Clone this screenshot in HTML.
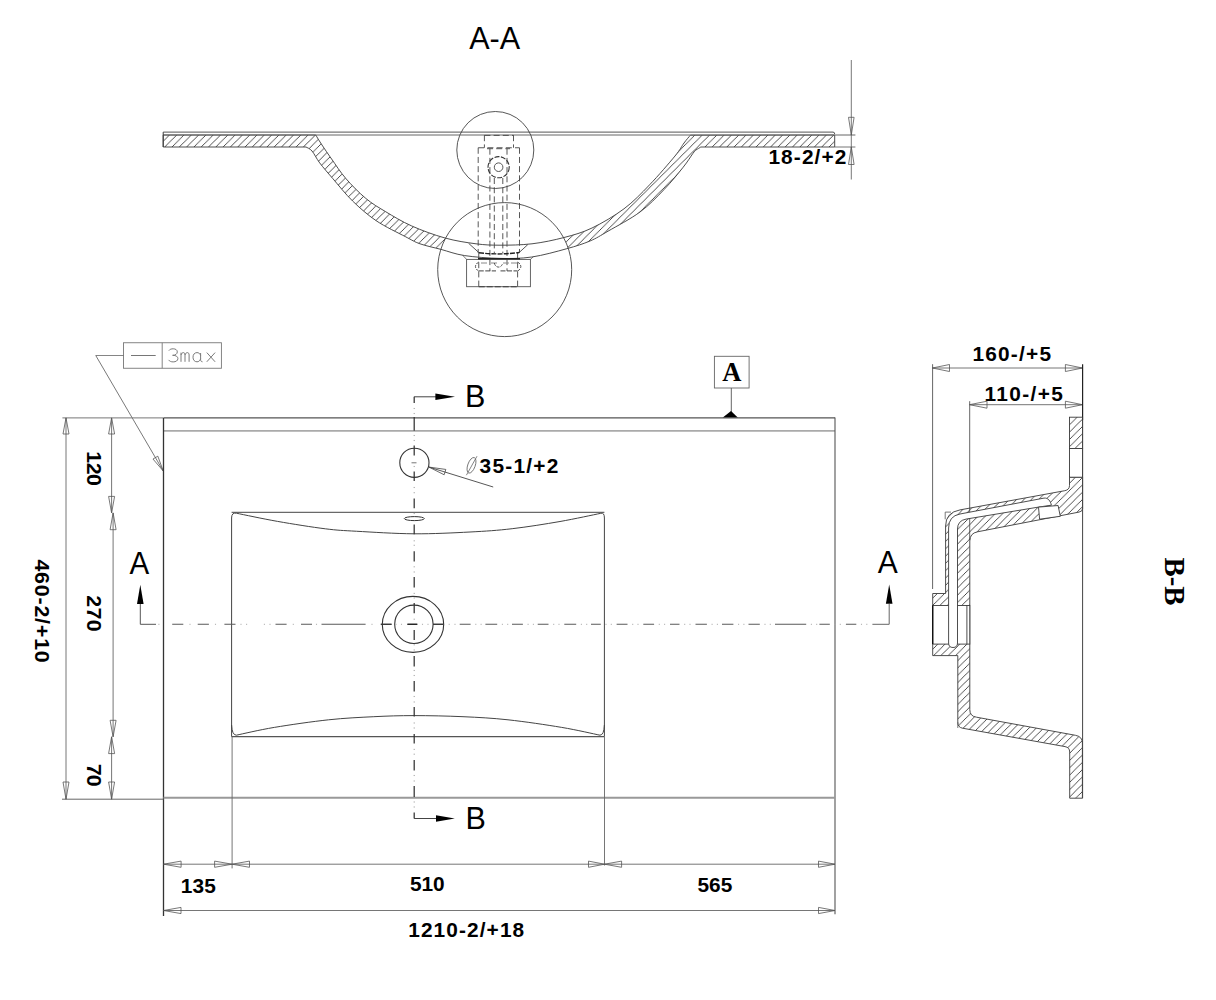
<!DOCTYPE html>
<html><head><meta charset="utf-8"><title>drawing</title>
<style>html,body{margin:0;padding:0;background:#fff;overflow:hidden}svg{display:block}</style>
</head><body>
<svg width="1216" height="1000" viewBox="0 0 1216 1000">
<rect width="1216" height="1000" fill="#fff"/>
<text x="469.2" y="49" font-family="Liberation Sans, sans-serif" font-size="31" font-weight="normal" fill="#000" text-anchor="start" textLength="51" lengthAdjust="spacingAndGlyphs" >A-A</text>
<defs>
<pattern id="h" patternUnits="userSpaceOnUse" x="5.1" y="0" width="7.3" height="7.3"><path d="M-1,1 l2,-2 M0,7.3 l7.3,-7.3 M6.3,8.3 l2,-2" stroke="#3a3a3a" stroke-width="0.9"/></pattern>
<mask id="mcirc"><rect x="0" y="0" width="1216" height="1000" fill="#fff"/><circle cx="504.7" cy="269.6" r="67" fill="#000"/></mask>
</defs>
<path d="M163.2,135 L315.8,135 C316.83,136.92 319.37,141.05 322,145 C324.63,148.95 327.6,153.38 331.6,159 C335.6,164.62 340.3,172.13 346,178.7 C351.7,185.27 359.22,192.92 365.8,198.4 C372.38,203.88 377.83,207 385.5,211.6 C393.17,216.2 401.88,221.6 411.8,226 C421.72,230.4 434.3,235.03 445,238 C455.7,240.97 466.83,242.6 476,243.8 C485.17,245 490.67,245.2 500,245.2 C509.33,245.2 521.33,245.08 532,243.8 C542.67,242.52 554,240.13 564,237.5 C574,234.87 582,232.78 592,228 C602,223.22 614.4,216 624,208.8 C633.6,201.6 641.1,193.6 649.6,184.8 C658.1,176 669.27,162.97 675,156 C680.73,149.03 681.43,146.47 684,143 C686.57,139.53 689.33,136.5 690.4,135.2 L834.7,135 L834.7,147 L700.8,147 C700,147.67 697.33,148.93 696,150 C694.67,151.07 694.93,150.73 692.8,153.6 C690.67,156.47 688,161.2 683.2,167.2 C678.4,173.2 671.2,182.13 664,189.6 C656.8,197.07 649.33,205.07 640,212 C630.67,218.93 616.33,226.37 608,231.2 C599.67,236.03 596.87,238.08 590,241 C583.13,243.92 576.5,246.03 566.8,248.7 C557.1,251.37 542.93,255.38 531.8,257 C520.67,258.62 511.18,258.63 500,258.4 C488.82,258.17 474.53,257.1 464.7,255.6 C454.87,254.1 448.45,251.37 441,249.4 C433.55,247.43 425.95,245.93 420,243.8 C414.05,241.67 412.58,240.43 405.3,236.6 C398.02,232.77 385.08,226.73 376.3,220.8 C367.52,214.87 359.83,208.02 352.6,201 C345.37,193.98 338.38,185.05 332.9,178.7 C327.42,172.35 323.18,167.52 319.7,162.9 C316.22,158.28 314.28,153.65 312,151 C309.72,148.35 307,147.67 306,147 L163.2,147 Z" stroke="none" stroke-width="0" fill="url(#h)" mask="url(#mcirc)"/>
<path d="M163.2,135 L315.8,135 C316.83,136.92 319.37,141.05 322,145 C324.63,148.95 327.6,153.38 331.6,159 C335.6,164.62 340.3,172.13 346,178.7 C351.7,185.27 359.22,192.92 365.8,198.4 C372.38,203.88 377.83,207 385.5,211.6 C393.17,216.2 401.88,221.6 411.8,226 C421.72,230.4 434.3,235.03 445,238 C455.7,240.97 466.83,242.6 476,243.8 C485.17,245 490.67,245.2 500,245.2 C509.33,245.2 521.33,245.08 532,243.8 C542.67,242.52 554,240.13 564,237.5 C574,234.87 582,232.78 592,228 C602,223.22 614.4,216 624,208.8 C633.6,201.6 641.1,193.6 649.6,184.8 C658.1,176 669.27,162.97 675,156 C680.73,149.03 681.43,146.47 684,143 C686.57,139.53 689.33,136.5 690.4,135.2 L834.7,135 L834.7,147 L700.8,147 C700,147.67 697.33,148.93 696,150 C694.67,151.07 694.93,150.73 692.8,153.6 C690.67,156.47 688,161.2 683.2,167.2 C678.4,173.2 671.2,182.13 664,189.6 C656.8,197.07 649.33,205.07 640,212 C630.67,218.93 616.33,226.37 608,231.2 C599.67,236.03 596.87,238.08 590,241 C583.13,243.92 576.5,246.03 566.8,248.7 C557.1,251.37 542.93,255.38 531.8,257 C520.67,258.62 511.18,258.63 500,258.4 C488.82,258.17 474.53,257.1 464.7,255.6 C454.87,254.1 448.45,251.37 441,249.4 C433.55,247.43 425.95,245.93 420,243.8 C414.05,241.67 412.58,240.43 405.3,236.6 C398.02,232.77 385.08,226.73 376.3,220.8 C367.52,214.87 359.83,208.02 352.6,201 C345.37,193.98 338.38,185.05 332.9,178.7 C327.42,172.35 323.18,167.52 319.7,162.9 C316.22,158.28 314.28,153.65 312,151 C309.72,148.35 307,147.67 306,147 L163.2,147 Z" stroke="#3a3a3a" stroke-width="0.9" fill="none" />
<line x1="163.2" y1="132.1" x2="833" y2="132.1" stroke="#555" stroke-width="1" />
<path d="M833,132.1 Q834.7,132.1 834.7,134" stroke="#555" stroke-width="1" fill="none" />
<line x1="163.2" y1="135" x2="855.4" y2="135" stroke="#666" stroke-width="1" />
<line x1="163.2" y1="132.1" x2="163.2" y2="147" stroke="#3a3a3a" stroke-width="1" />
<line x1="834.7" y1="147" x2="855.4" y2="147" stroke="#666" stroke-width="0.9" />
<circle cx="495.3" cy="150" r="38.5" fill="none" stroke="#444" stroke-width="0.9"/>
<circle cx="504.7" cy="269.6" r="67" fill="none" stroke="#444" stroke-width="0.9"/>
<line x1="478.2" y1="147.75" x2="478.2" y2="253" stroke="#444" stroke-width="0.9" stroke-dasharray="6 3.2"/>
<line x1="519.5" y1="147.75" x2="519.5" y2="253" stroke="#444" stroke-width="0.9" stroke-dasharray="6 3.2"/>
<line x1="478.75" y1="253" x2="478.75" y2="286.6" stroke="#444" stroke-width="0.9" stroke-dasharray="6 3.2"/>
<line x1="517.6" y1="253" x2="517.6" y2="286.6" stroke="#444" stroke-width="0.9" stroke-dasharray="6 3.2"/>
<line x1="478.2" y1="147.75" x2="519.5" y2="147.75" stroke="#444" stroke-width="0.9" stroke-dasharray="6 3.2"/>
<line x1="484.4" y1="135.2" x2="484.4" y2="147.75" stroke="#444" stroke-width="0.9" stroke-dasharray="6 3.2"/>
<line x1="513.5" y1="135.2" x2="513.5" y2="147.75" stroke="#444" stroke-width="0.9" stroke-dasharray="6 3.2"/>
<line x1="484.4" y1="135.4" x2="513.5" y2="135.4" stroke="#444" stroke-width="0.9" stroke-dasharray="6 3.2"/>
<line x1="489.9" y1="148.7" x2="489.9" y2="271" stroke="#444" stroke-width="0.9" stroke-dasharray="6 3.2"/>
<line x1="507" y1="148.7" x2="507" y2="271" stroke="#444" stroke-width="0.9" stroke-dasharray="6 3.2"/>
<line x1="487" y1="148.7" x2="510" y2="148.7" stroke="#444" stroke-width="0.9" stroke-dasharray="6 3.2"/>
<line x1="494.3" y1="178" x2="494.3" y2="253" stroke="#444" stroke-width="0.9" stroke-dasharray="6 3.2"/>
<line x1="502.8" y1="178" x2="502.8" y2="253" stroke="#444" stroke-width="0.9" stroke-dasharray="6 3.2"/>
<line x1="478.75" y1="286.6" x2="517.6" y2="286.6" stroke="#333" stroke-width="1.1" stroke-dasharray="6 2"/>
<circle cx="498.6" cy="167.2" r="10.6" fill="none" stroke="#333" stroke-width="1.1" stroke-dasharray="5 1.5"/>
<circle cx="498.6" cy="167.2" r="4.3" fill="none" stroke="#444" stroke-width="0.9"/>
<rect x="466.6" y="259.4" width="63.8" height="27.3" fill="none" stroke="#555" stroke-width="0.9"/>
<line x1="462.6" y1="255.2" x2="466.6" y2="259.4" stroke="#555" stroke-width="0.8" />
<line x1="533.5" y1="256.6" x2="530.4" y2="259.4" stroke="#555" stroke-width="0.8" />
<line x1="468.6" y1="243.3" x2="479.1" y2="252.8" stroke="#444" stroke-width="0.9" />
<line x1="527.8" y1="244.6" x2="519.2" y2="252.5" stroke="#444" stroke-width="0.9" />
<path d="M479,252.8 Q499,255.2 519.2,252.5" stroke="#222" stroke-width="1.4" fill="none" stroke-dasharray="5 1.2"/>
<line x1="478" y1="258.7" x2="520" y2="258.7" stroke="#222" stroke-width="1.5" />
<path d="M481,263 h6 M491,263 h6 M503,263 h6 M511,263 h6" stroke="#888" stroke-width="1" fill="none" />
<path d="M478.7,262 C474,265 474.5,269 479.5,271.5 M517.6,262 C522.3,265 521.8,269 516.8,271.5 M494.3,263 C495.5,268.5 501.5,268.5 502.8,263" stroke="#444" stroke-width="0.9" fill="none" stroke-dasharray="3 1.2"/>
<line x1="478.75" y1="270.9" x2="496" y2="270.9" stroke="#444" stroke-width="1" stroke-dasharray="5 1.5"/>
<line x1="500.5" y1="270.9" x2="517.6" y2="270.9" stroke="#444" stroke-width="1" stroke-dasharray="5 1.5"/>
<line x1="851.3" y1="60" x2="851.3" y2="179.5" stroke="#555" stroke-width="0.8" />
<path d="M851.3,135 L848.5,117.3 L854.1,117.3 Z" stroke="#555" stroke-width="0.8" fill="none" stroke-linejoin="miter"/>
<path d="M851.3,147 L854.1,164.5 L848.5,164.5 Z" stroke="#555" stroke-width="0.8" fill="none" stroke-linejoin="miter"/>
<text transform="translate(768.4,163.7) scale(1.07,1)" x="0" y="0" font-family="Liberation Sans, sans-serif" font-size="19.5" font-weight="bold" fill="#000" textLength="72.9" lengthAdjust="spacing" >18-2/+2</text>
<rect x="714.4" y="356.3" width="34.7" height="31.7" fill="none" stroke="#666" stroke-width="0.9"/>
<text x="731.8" y="380.7" font-family="Liberation Serif, serif" font-size="26.5" font-weight="bold" fill="#000" text-anchor="middle" >A</text>
<line x1="731.3" y1="388" x2="731.3" y2="412" stroke="#555" stroke-width="0.9" />
<path d="M722.5,417.8 L738,417.8 L731,411 Z" fill="#000"/>
<rect x="123.5" y="342.75" width="97.9" height="25.5" fill="none" stroke="#777" stroke-width="0.9"/>
<line x1="162.2" y1="342.75" x2="162.2" y2="368.25" stroke="#777" stroke-width="0.9" />
<line x1="131" y1="355.5" x2="155.7" y2="355.5" stroke="#666" stroke-width="0.9" />
<path d="M168.9,350.6 C169.8,349.2 171.5,348.8 173.2,348.8 C175.6,348.8 177.3,350 177.3,351.9 C177.3,354 175.3,355.3 172.6,355.3 C176,355.3 177.9,356.6 177.9,358.6 C177.9,360.7 175.8,361.9 173.2,361.9 C171.2,361.9 169.5,361.3 168.6,359.9 M181,361.8 L181,352.6 M181,355 C181.5,353.3 182.4,352.6 183.3,352.6 C184.5,352.6 185,353.5 185,355 L185,361.8 M185,355 C185.5,353.3 186.4,352.6 187.3,352.6 C188.5,352.6 189.1,353.5 189.1,355 L189.1,361.8 M200.6,353 L200.6,359.5 C200.6,361 201.3,361.8 202.5,361.8 M200.6,355.5 C200,353.5 198.7,352.6 197,352.6 C194.6,352.6 193,354.5 193,357.2 C193,360 194.6,361.8 197,361.8 C198.7,361.8 200,360.8 200.6,358.8 M206.8,352.6 L215.1,361.8 M215.1,352.6 L206.8,361.8" stroke="#7a7a7a" stroke-width="1" fill="none" />
<line x1="123.5" y1="355.5" x2="95.75" y2="355.5" stroke="#666" stroke-width="0.8" />
<line x1="95.75" y1="355.5" x2="163.25" y2="471" stroke="#555" stroke-width="0.8" />
<path d="M163.25,471 L152.98,459.02 L157.82,456.18 Z" stroke="#555" stroke-width="0.8" fill="none" stroke-linejoin="miter"/>
<line x1="62.4" y1="417.9" x2="163.5" y2="417.9" stroke="#777" stroke-width="1" />
<line x1="163.5" y1="417.9" x2="835" y2="417.9" stroke="#555" stroke-width="1.3" />
<line x1="163.5" y1="430.9" x2="835" y2="430.9" stroke="#aaa" stroke-width="1.6" />
<line x1="163.5" y1="417.9" x2="163.5" y2="916" stroke="#333" stroke-width="1.3" />
<line x1="835" y1="417.4" x2="835" y2="914.3" stroke="#555" stroke-width="1.1" />
<line x1="163.5" y1="797.8" x2="835" y2="797.8" stroke="#999" stroke-width="2" />
<line x1="62" y1="799.2" x2="163.5" y2="799.2" stroke="#666" stroke-width="1" />
<line x1="231.6" y1="512.3" x2="604.4" y2="512.3" stroke="#444" stroke-width="1" />
<line x1="231.6" y1="736.6" x2="604.4" y2="736.6" stroke="#555" stroke-width="1.1" />
<path d="M231.6,736.6 L231.6,518 Q231.6,512.3 236.4,513.2" stroke="#444" stroke-width="1" fill="none" />
<path d="M604.4,736.6 L604.4,518 Q604.4,512.3 600.8,513.3" stroke="#444" stroke-width="1" fill="none" />
<path d="M236.4,513.2 C243.27,514.57 262.78,518.8 277.6,521.4 C292.42,524 312.15,527.16 325.3,528.8 C338.45,530.44 341.72,530.42 356.5,531.25 C371.28,532.08 395.08,533.67 414,533.8 C432.92,533.92 453.63,532.85 470,532 C486.37,531.15 497.2,530.45 512.2,528.7 C527.2,526.95 545.23,524.07 560,521.5 C574.77,518.93 594,514.67 600.8,513.3" stroke="#444" stroke-width="1" fill="none" />
<path d="M236.3,735.2 C242.63,733.9 258.92,729.97 274.3,727.4 C289.68,724.83 312.02,721.58 328.6,719.8 C345.18,718.02 359.57,717.4 373.8,716.7 C388.03,716 399.13,715.6 414,715.6 C428.87,715.6 447.33,716 463,716.7 C478.67,717.4 491.55,718.02 508,719.8 C524.45,721.58 546.37,724.83 561.7,727.4 C577.03,729.97 593.62,733.9 600,735.2" stroke="#444" stroke-width="1" fill="none" />
<path d="M231.6,725 Q232,735 236.3,735.2" stroke="#444" stroke-width="1" fill="none" />
<path d="M604.4,725 Q604,735 600,735.2" stroke="#444" stroke-width="1" fill="none" />
<line x1="232.1" y1="736.6" x2="232.1" y2="868.4" stroke="#666" stroke-width="0.9" />
<line x1="604.5" y1="736.6" x2="604.5" y2="865.5" stroke="#666" stroke-width="0.9" />
<ellipse cx="414.3" cy="518.6" rx="10" ry="2" fill="none" stroke="#333" stroke-width="1"/>
<circle cx="414.4" cy="462.8" r="14.6" fill="none" stroke="#333" stroke-width="1.1"/>
<ellipse cx="413" cy="624.4" rx="30.7" ry="28" fill="none" stroke="#333" stroke-width="1.1"/>
<circle cx="413.9" cy="624.3" r="19.2" fill="none" stroke="#333" stroke-width="1.1"/>
<path d="M414.2,396.8 V403 M414.2,417 V430.8 M414.2,445.5 V455.5 M414.2,471.5 V481 M414.2,498.6 V508.3 M414.2,524.5 V534.3 M414.2,551.2 V561.6 M414.2,577.1 V587.5 M414.2,603 V613.3 M414.2,630 V640 M414.2,656 V666.5 M414.2,681 V691.5 M414.2,707 V716.5 M414.2,734 V743.6 M414.2,760 V770.5 M414.2,786 V797 M414.2,812.5 V818.5" stroke="#333" stroke-width="1.25" fill="none" />
<path d="M414.2,407.95 v1.1 M414.2,412.95 v1.1 M414.2,434.95 v1.1 M414.2,439.95 v1.1 M414.2,465.95 v1.1 M414.2,486.95 v1.1 M414.2,492.15 v1.1 M414.2,512.95 v1.1 M414.2,540.25 v1.1 M414.2,544.75 v1.1 M414.2,566.25 v1.1 M414.2,571.45 v1.1 M414.2,592.85 v1.1 M414.2,597.45 v1.1 M414.2,618.65 v1.1 M414.2,644.25 v1.1 M414.2,649.45 v1.1 M414.2,669.95 v1.1 M414.2,674.95 v1.1 M414.2,695.95 v1.1 M414.2,701.45 v1.1 M414.2,722.45 v1.1 M414.2,727.45 v1.1 M414.2,748.85 v1.1 M414.2,753.65 v1.1 M414.2,774.95 v1.1 M414.2,780.45 v1.1 M414.2,801.45 v1.1 M414.2,806.45 v1.1" stroke="#999" stroke-width="1" fill="none" />
<line x1="411.5" y1="462.8" x2="416.5" y2="462.8" stroke="#666" stroke-width="0.9" />
<path d="M172.2,624.3 H183.3 M197.7,624.3 H208.9 M224.4,624.3 H235.5 M275.5,624.3 H286.6 M301,624.3 H312 M321.5,624.3 H365.6 M380.8,624.3 H391.6 M407.4,624.3 H417.3 M433,624.3 H443.4 M459.7,624.3 H470.6 M485.4,624.3 H497.2 M512,624.3 H522.9 M537.7,624.3 H548.5 M564.3,624.3 H576.2 M591,624.3 H600.8 M616.6,624.3 H627.5 M643.3,624.3 H654.1 M670,624.3 H679.5 M695.5,624.3 H706.9 M722,624.3 H733.4 M748.5,624.3 H759.8 M775,624.3 H806.2 M819.4,624.3 H829.8 M845.9,624.3 H856.3" stroke="#5a5a5a" stroke-width="1.1" fill="none" />
<path d="M158.35,624.3 h1.1 M189.45,624.3 h1.1 M214.95,624.3 h1.1 M240.45,624.3 h1.1 M246.05,624.3 h1.1 M263.85,624.3 h1.1 M269.45,624.3 h1.1 M292.75,624.3 h1.1 M315.95,624.3 h1.1 M371.45,624.3 h1.1 M395.45,624.3 h1.1 M400.95,624.3 h1.1 M421.95,624.3 h1.1 M427.45,624.3 h1.1 M448.65,624.3 h1.1 M454.45,624.3 h1.1 M475.25,624.3 h1.1 M480.55,624.3 h1.1 M501.85,624.3 h1.1 M507.15,624.3 h1.1 M527.55,624.3 h1.1 M532.85,624.3 h1.1 M553.15,624.3 h1.1 M558.45,624.3 h1.1 M580.85,624.3 h1.1 M586.15,624.3 h1.1 M605.45,624.3 h1.1 M610.75,624.3 h1.1 M632.15,624.3 h1.1 M637.45,624.3 h1.1 M658.75,624.3 h1.1 M664.05,624.3 h1.1 M684.15,624.3 h1.1 M689.45,624.3 h1.1 M711.55,624.3 h1.1 M716.85,624.3 h1.1 M738.05,624.3 h1.1 M743.35,624.3 h1.1 M764.45,624.3 h1.1 M769.75,624.3 h1.1 M810.85,624.3 h1.1 M816.15,624.3 h1.1 M834.45,624.3 h1.1 M839.75,624.3 h1.1 M860.95,624.3 h1.1 M866.25,624.3 h1.1" stroke="#aaa" stroke-width="1" fill="none" />
<line x1="407.4" y1="624.3" x2="417.3" y2="624.3" stroke="#222" stroke-width="1.3" />
<line x1="380.8" y1="624.3" x2="391.6" y2="624.3" stroke="#333" stroke-width="1.2" />
<line x1="433" y1="624.3" x2="443.4" y2="624.3" stroke="#333" stroke-width="1.2" />
<line x1="414.1" y1="396.8" x2="436" y2="396.8" stroke="#444" stroke-width="1" />
<path d="M455,396.8 L435.4,400 L435.4,393.6 Z" fill="#000"/>
<text x="465" y="406.6" font-family="Liberation Sans, sans-serif" font-size="30.5" font-weight="normal" fill="#000" text-anchor="start" >B</text>
<line x1="414.1" y1="818.5" x2="437" y2="818.5" stroke="#444" stroke-width="1" />
<path d="M454.8,818.5 L436,821.7 L436,815.3 Z" fill="#000"/>
<text x="465.6" y="829.2" font-family="Liberation Sans, sans-serif" font-size="30.5" font-weight="normal" fill="#000" text-anchor="start" >B</text>
<path d="M156,624.3 L140.3,624.3 L140.3,604" stroke="#555" stroke-width="1" fill="none" />
<path d="M140.3,584.8 L143.6,604 L137,604 Z" fill="#000"/>
<text x="129.6" y="573.6" font-family="Liberation Sans, sans-serif" font-size="31.5" font-weight="normal" fill="#000" text-anchor="start" textLength="19.7" lengthAdjust="spacingAndGlyphs" >A</text>
<path d="M872.4,624.3 L889.2,624.3 L889.2,604" stroke="#666" stroke-width="1" fill="none" />
<path d="M889.2,584.6 L892.5,603.8 L885.9,603.8 Z" fill="#000"/>
<text x="877.8" y="573" font-family="Liberation Sans, sans-serif" font-size="31.5" font-weight="normal" fill="#000" text-anchor="start" textLength="20" lengthAdjust="spacingAndGlyphs" >A</text>
<line x1="429" y1="467.1" x2="493.2" y2="487" stroke="#444" stroke-width="0.9" />
<path d="M429,467.1 L445.84,469.43 L444.16,474.77 Z" stroke="#444" stroke-width="0.8" fill="none" stroke-linejoin="miter"/>
<ellipse cx="471.5" cy="465.3" rx="8.2" ry="3.7" transform="rotate(-70 471.5 465.3)" fill="none" stroke="#666" stroke-width="0.8"/>
<line x1="466.4" y1="475.2" x2="477" y2="456.2" stroke="#666" stroke-width="0.8" />
<text transform="translate(479.6,472.6) scale(1.07,1)" x="0" y="0" font-family="Liberation Sans, sans-serif" font-size="19.5" font-weight="bold" fill="#000" textLength="73.55" lengthAdjust="spacing" >35-1/+2</text>
<line x1="66" y1="417.9" x2="66" y2="799.2" stroke="#666" stroke-width="0.9" />
<path d="M66,417.9 L69,434 L63,434 Z" stroke="#555" stroke-width="0.8" fill="none" stroke-linejoin="miter"/>
<path d="M66,799.2 L63,782 L69,782 Z" stroke="#555" stroke-width="0.8" fill="none" stroke-linejoin="miter"/>
<line x1="111.6" y1="417.9" x2="111.6" y2="512.9" stroke="#666" stroke-width="0.9" />
<line x1="113.1" y1="512.9" x2="113.1" y2="736.8" stroke="#666" stroke-width="0.9" />
<line x1="111.6" y1="736.8" x2="111.6" y2="799.2" stroke="#666" stroke-width="0.9" />
<path d="M111.6,417.9 L114.6,434 L108.6,434 Z" stroke="#555" stroke-width="0.8" fill="none" stroke-linejoin="miter"/>
<path d="M111.6,512.9 L108.6,496.4 L114.6,496.4 Z" stroke="#555" stroke-width="0.8" fill="none" stroke-linejoin="miter"/>
<path d="M113.1,512.9 L116.1,529.7 L110.1,529.7 Z" stroke="#555" stroke-width="0.8" fill="none" stroke-linejoin="miter"/>
<path d="M113.1,736.8 L110.1,720.3 L116.1,720.3 Z" stroke="#555" stroke-width="0.8" fill="none" stroke-linejoin="miter"/>
<path d="M111.6,736.8 L114.6,753.6 L108.6,753.6 Z" stroke="#555" stroke-width="0.8" fill="none" stroke-linejoin="miter"/>
<path d="M111.6,799.2 L108.6,782 L114.6,782 Z" stroke="#555" stroke-width="0.8" fill="none" stroke-linejoin="miter"/>
<text transform="translate(87.2,451.2) rotate(90) scale(1.1,1)" x="0" y="0" font-family="Liberation Sans, sans-serif" font-size="19.5" font-weight="bold" textLength="31.64" lengthAdjust="spacing">120</text>
<text transform="translate(87.2,595.2) rotate(90) scale(1.1,1)" x="0" y="0" font-family="Liberation Sans, sans-serif" font-size="19.5" font-weight="bold" textLength="33.09" lengthAdjust="spacing">270</text>
<text transform="translate(87.2,763.8) rotate(90) scale(1.1,1)" x="0" y="0" font-family="Liberation Sans, sans-serif" font-size="19.5" font-weight="bold" textLength="20.91" lengthAdjust="spacing">70</text>
<text transform="translate(35,559.4) rotate(90) scale(1.1,1)" x="0" y="0" font-family="Liberation Sans, sans-serif" font-size="19.5" font-weight="bold" textLength="94" lengthAdjust="spacing">460-2/+10</text>
<line x1="163.6" y1="864.2" x2="835" y2="864.2" stroke="#666" stroke-width="0.9" />
<path d="M163.6,864.2 L181.1,861.1 L181.1,867.3 Z" stroke="#555" stroke-width="0.8" fill="none" stroke-linejoin="miter"/>
<path d="M232.1,864.2 L214.6,867.3 L214.6,861.1 Z" stroke="#555" stroke-width="0.8" fill="none" stroke-linejoin="miter"/>
<path d="M232.1,864.2 L249.5,861.1 L249.5,867.3 Z" stroke="#555" stroke-width="0.8" fill="none" stroke-linejoin="miter"/>
<path d="M604.5,864.2 L588.5,867.3 L588.5,861.1 Z" stroke="#555" stroke-width="0.8" fill="none" stroke-linejoin="miter"/>
<path d="M604.5,864.2 L621.6,861.1 L621.6,867.3 Z" stroke="#555" stroke-width="0.8" fill="none" stroke-linejoin="miter"/>
<path d="M835,864.2 L818.5,867.3 L818.5,861.1 Z" stroke="#555" stroke-width="0.8" fill="none" stroke-linejoin="miter"/>
<line x1="163.6" y1="910.5" x2="835" y2="910.5" stroke="#666" stroke-width="0.9" />
<path d="M163.6,910.5 L181,907.4 L181,913.6 Z" stroke="#555" stroke-width="0.8" fill="none" stroke-linejoin="miter"/>
<path d="M835,910.5 L818.5,913.6 L818.5,907.4 Z" stroke="#555" stroke-width="0.8" fill="none" stroke-linejoin="miter"/>
<text transform="translate(180.8,893.4) scale(1.07,1)" x="0" y="0" font-family="Liberation Sans, sans-serif" font-size="19.5" font-weight="bold" fill="#000" textLength="32.71" lengthAdjust="spacing" >135</text>
<text transform="translate(409.9,890.8) scale(1.07,1)" x="0" y="0" font-family="Liberation Sans, sans-serif" font-size="19.5" font-weight="bold" fill="#000" textLength="32.52" lengthAdjust="spacing" >510</text>
<text transform="translate(697.5,892.2) scale(1.07,1)" x="0" y="0" font-family="Liberation Sans, sans-serif" font-size="19.5" font-weight="bold" fill="#000" textLength="32.52" lengthAdjust="spacing" >565</text>
<text transform="translate(408.2,937.2) scale(1.07,1)" x="0" y="0" font-family="Liberation Sans, sans-serif" font-size="19.5" font-weight="bold" fill="#000" textLength="108.41" lengthAdjust="spacing" >1210-2/+18</text>
<text transform="translate(972.5,361.4) scale(1.07,1)" x="0" y="0" font-family="Liberation Sans, sans-serif" font-size="19.5" font-weight="bold" fill="#000" textLength="73.36" lengthAdjust="spacing" >160-/+5</text>
<text transform="translate(984.4,401.2) scale(1.07,1)" x="0" y="0" font-family="Liberation Sans, sans-serif" font-size="19.5" font-weight="bold" fill="#000" textLength="73.36" lengthAdjust="spacing" >110-/+5</text>
<line x1="932.4" y1="368" x2="1082.5" y2="368" stroke="#666" stroke-width="0.9" />
<path d="M932.4,368 L949.5,364.5 L949.5,371.5 Z" stroke="#555" stroke-width="0.8" fill="none" stroke-linejoin="miter"/>
<path d="M1082.5,368 L1065.4,371.5 L1065.4,364.5 Z" stroke="#555" stroke-width="0.8" fill="none" stroke-linejoin="miter"/>
<line x1="969.5" y1="404.7" x2="1082.5" y2="404.7" stroke="#666" stroke-width="0.9" />
<path d="M969.5,404.7 L987,401.2 L987,408.2 Z" stroke="#555" stroke-width="0.8" fill="none" stroke-linejoin="miter"/>
<path d="M1082.5,404.7 L1065.4,408.2 L1065.4,401.2 Z" stroke="#555" stroke-width="0.8" fill="none" stroke-linejoin="miter"/>
<line x1="932.6" y1="364.2" x2="932.6" y2="589" stroke="#555" stroke-width="0.9" />
<line x1="969.7" y1="401.2" x2="969.7" y2="540" stroke="#555" stroke-width="0.9" />
<line x1="1082.6" y1="364.2" x2="1082.6" y2="420" stroke="#222" stroke-width="1.2" />
<path d="M1069.5,477.2 L1082.6,477.2 L1082.6,508.5 Q1082.6,511.6 1079,512.1 L977.5,531.8 Q969.8,533.3 969.8,541 L969.8,709.6 Q969.8,716.3 976.5,717.2 L1075.5,735.3 Q1082.4,736.6 1082.4,743 L1082.4,798.2 L1069.7,798.2 L1069.7,752 Q1069.7,747.4 1065,746.6 L962.5,728.2 Q957.8,727.3 957.8,722.5 L957.8,655.6 L932.7,655.6 L932.7,593.5 L945.6,593.5 L945.6,526 Q945.6,512.5 960,509.9 L1064.8,490.7 Q1069.5,489.8 1069.5,485.5 Z" stroke="none" stroke-width="0" fill="url(#h)" />
<path d="M1069.5,477.2 L1082.6,477.2 L1082.6,508.5 Q1082.6,511.6 1079,512.1 L977.5,531.8 Q969.8,533.3 969.8,541 L969.8,709.6 Q969.8,716.3 976.5,717.2 L1075.5,735.3 Q1082.4,736.6 1082.4,743 L1082.4,798.2 L1069.7,798.2 L1069.7,752 Q1069.7,747.4 1065,746.6 L962.5,728.2 Q957.8,727.3 957.8,722.5 L957.8,655.6 L932.7,655.6 L932.7,593.5 L945.6,593.5 L945.6,526 Q945.6,512.5 960,509.9 L1064.8,490.7 Q1069.5,489.8 1069.5,485.5 Z" stroke="#3a3a3a" stroke-width="0.9" fill="none" />
<rect x="1069.5" y="417.2" width="13.1" height="31.3" fill="url(#h)" stroke="#3a3a3a" stroke-width="0.9"/>
<rect x="1069.5" y="448.5" width="13.1" height="28.7" fill="#fff" stroke="#3a3a3a" stroke-width="0.9"/>
<rect x="932.7" y="605.5" width="37.1" height="38.6" fill="#fff" stroke="#3a3a3a" stroke-width="0.9"/>
<line x1="966.9" y1="605.5" x2="966.9" y2="644.1" stroke="#3a3a3a" stroke-width="0.9" />
<line x1="932.7" y1="605.5" x2="932.7" y2="644.1" stroke="#111" stroke-width="1.4" />
<path d="M1044,498.1 L960,514 Q948.6,516.1 948.6,528 L948.6,643 Q948.6,647.5 953,647.5 Q957.5,647.5 957.5,643 L957.5,529 Q957.5,520.7 966,519.1 L1038.5,507.1 L1051.4,505.2 C1050.5,501 1048,497.6 1044,498.1 Z" stroke="#3a3a3a" stroke-width="0.9" fill="#fff" />
<path d="M1038.5,507.1 L1058.1,505.5 L1060.3,516.3 L1039.6,519.2 Z" stroke="#3a3a3a" stroke-width="0.9" fill="#fff" />
<path d="M951,512.1 L945.2,512.1 L945.2,519.3" stroke="#555" stroke-width="0.8" fill="none" />
<line x1="957.8" y1="722" x2="957.8" y2="728" stroke="#555" stroke-width="0.8" />
<line x1="1082.6" y1="420" x2="1082.6" y2="798.2" stroke="#444" stroke-width="1" />
<text transform="translate(1164.6,557.5) rotate(90)" x="0" y="0" font-family="Liberation Serif, serif" font-size="29" font-weight="bold" textLength="48" lengthAdjust="spacingAndGlyphs">B-B</text>
</svg>
</body></html>
